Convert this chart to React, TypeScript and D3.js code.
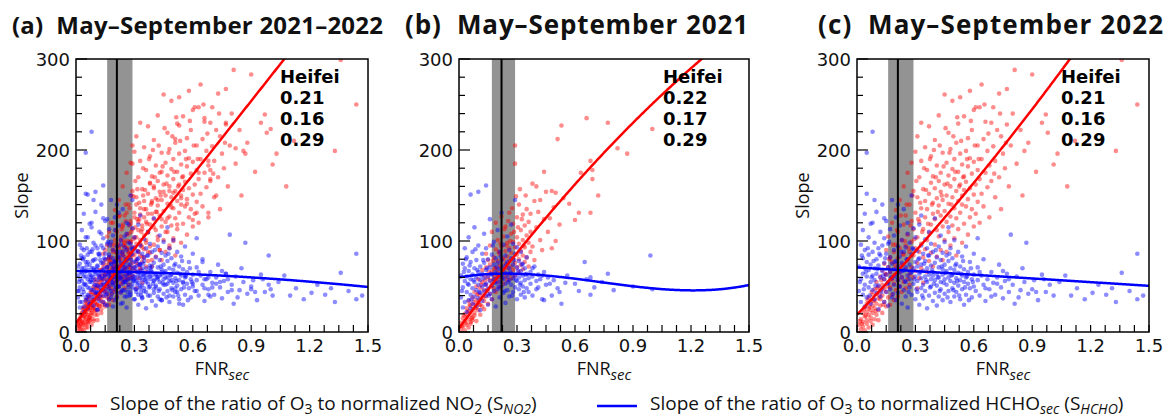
import React from 'react';
import * as d3 from 'd3';

type P = [number, number];

// ---- Data (FNR_sec, slope) ----
const red2021: P[] = [
[0.01,3],[0.01,10],[0.02,6],[0.02,15],[0.03,2],[0.03,12],[0.03,20],[0.04,8],[0.04,17],[0.04,26],[0.05,5],[0.05,14],[0.05,23],[0.05,34],[0.06,11],[0.06,19],[0.06,29],[0.06,9],[0.07,16],[0.07,25],[0.07,38],[0.07,13],[0.08,21],[0.08,30],[0.08,44],[0.08,18],[0.09,12],[0.09,27],[0.09,35],[0.09,50],[0.10,24],[0.10,33],[0.10,42],[0.10,58],
[0.11,19],[0.11,37],[0.11,48],[0.11,30],[0.12,28],[0.12,41],[0.12,55],[0.12,68],[0.13,34],[0.13,46],[0.13,62],[0.13,25],[0.14,39],[0.14,52],[0.14,71],[0.14,86],[0.15,31],[0.15,47],[0.15,60],[0.15,79],[0.16,42],[0.16,57],[0.16,74],[0.16,95],[0.17,36],[0.17,53],[0.17,67],[0.17,110],[0.18,48],[0.18,63],[0.18,82],[0.18,58],[0.19,44],[0.19,70],[0.19,91],[0.19,120],[0.20,55],[0.20,66],[0.20,78],[0.20,101],
[0.21,49],[0.21,62],[0.21,86],[0.21,73],[0.22,58],[0.22,71],[0.22,94],[0.22,127],[0.23,53],[0.23,66],[0.23,80],[0.23,105],[0.24,61],[0.24,75],[0.24,89],[0.24,116],[0.25,57],[0.25,70],[0.25,98],[0.25,83],[0.26,64],[0.26,78],[0.26,92],[0.26,131],[0.27,59],[0.27,72],[0.27,87],[0.27,108],[0.28,68],[0.28,81],[0.28,99],[0.28,119],[0.29,62],[0.29,76],[0.29,93],[0.29,185],[0.29,205],[0.30,71],[0.30,85],[0.30,104],[0.30,126],[0.31,66],[0.31,80],[0.31,97],[0.31,140],[0.32,74],[0.32,89],[0.32,112],[0.33,69],[0.33,84],[0.33,101],[0.33,129],[0.34,77],[0.34,93],[0.34,117],[0.35,82],[0.35,106],[0.35,135],
[0.36,72],[0.36,98],[0.36,121],[0.37,88],[0.37,110],[0.38,163],[0.38,94],[0.39,144],[0.39,79],[0.40,115],[0.41,132],[0.42,101],[0.43,90],[0.44,176],[0.44,124],[0.45,154],[0.46,110],[0.48,155],[0.48,92],[0.49,137],[0.50,153],[0.50,100],[0.51,212],[0.52,118],[0.53,227],[0.54,147],
[0.57,141],[0.60,123],[0.62,131],[0.63,175],[0.66,235],[0.68,188],[0.68,131],[0.69,178],[0.69,168],[0.72,150],[0.77,230],[0.82,202],[0.87,196],[1.00,223],
[0.015,7],[0.025,18],[0.035,10],[0.045,22],[0.055,30],[0.065,15],[0.075,33],[0.085,26],[0.095,41],[0.105,30],[0.115,52],[0.125,38],[0.135,57],[0.145,45],[0.155,66],[0.165,50],[0.175,78],[0.185,70],[0.195,60],[0.205,88],[0.215,97],[0.225,81],[0.235,113],[0.245,95],[0.255,122],[0.265,100],[0.275,136],[0.285,110],[0.295,149],[0.305,115],[0.315,157],[0.325,124],[0.335,95],[0.345,150],[0.37,130],[0.40,160],[0.42,145],[0.47,125]
];

const blue2021: P[] = [
[0.01,38],[0.01,62],[0.02,49],[0.02,75],[0.02,27],[0.03,56],[0.03,70],[0.03,92],[0.03,33],[0.04,44],[0.04,61],[0.04,82],[0.04,22],[0.05,52],[0.05,67],[0.05,35],[0.05,104],[0.06,151],[0.06,58],[0.06,41],[0.06,77],[0.06,26],[0.07,48],[0.07,63],[0.07,88],[0.07,31],[0.08,55],[0.08,70],[0.08,39],[0.08,115],[0.09,46],[0.09,60],[0.09,79],[0.09,29],[0.10,154],[0.10,52],[0.10,66],[0.10,37],[0.10,95],
[0.11,57],[0.11,72],[0.11,43],[0.11,24],[0.12,50],[0.12,64],[0.12,86],[0.12,34],[0.13,59],[0.13,45],[0.13,76],[0.13,108],[0.14,161],[0.14,53],[0.14,68],[0.14,40],[0.14,92],[0.15,61],[0.15,48],[0.15,80],[0.15,30],[0.16,56],[0.16,71],[0.16,42],[0.16,124],[0.17,63],[0.17,51],[0.17,85],[0.17,36],[0.18,58],[0.18,74],[0.18,45],[0.18,99],[0.19,66],[0.19,54],[0.19,81],[0.19,28],[0.20,60],[0.20,76],[0.20,47],[0.20,112],
[0.21,55],[0.21,69],[0.21,88],[0.21,38],[0.22,63],[0.22,50],[0.22,79],[0.22,131],[0.23,58],[0.23,72],[0.23,43],[0.23,96],[0.24,65],[0.24,53],[0.24,84],[0.24,32],[0.25,61],[0.25,77],[0.25,46],[0.25,105],[0.26,57],[0.26,70],[0.26,39],[0.26,90],[0.27,64],[0.27,52],[0.27,81],[0.27,118],[0.28,59],[0.28,74],[0.28,44],[0.28,97],[0.29,145],[0.29,62],[0.29,49],[0.29,86],[0.30,56],[0.30,71],[0.30,36],[0.30,93],[0.31,60],[0.31,47],[0.31,78],[0.32,54],[0.32,67],[0.32,41],[0.32,88],[0.33,62],[0.33,50],[0.33,75],[0.34,57],[0.34,70],[0.34,38],[0.35,64],[0.35,48],[0.35,82],
[0.36,59],[0.36,44],[0.37,66],[0.37,53],[0.38,61],[0.38,40],[0.39,72],[0.40,56],[0.40,47],[0.41,63],[0.42,58],[0.43,36],[0.44,35],[0.44,66],[0.45,52],[0.46,60],[0.48,40],[0.49,57],[0.51,48],[0.53,31],[0.55,54],[0.56,62],
[0.60,53],[0.62,45],[0.65,77],[0.66,58],[0.68,41],[0.68,60],[0.70,49],[0.74,55],[0.77,64],[0.80,46],[0.90,50],[0.99,84],[1.00,47],
[0.015,45],[0.025,66],[0.035,80],[0.045,53],[0.055,73],[0.065,36],[0.075,57],[0.085,91],[0.095,68],[0.105,44],[0.115,62],[0.125,79],[0.135,52],[0.145,70],[0.155,40],[0.165,64],[0.175,95],[0.185,55],[0.195,71],[0.205,50],[0.215,83],[0.225,60],[0.235,45],[0.245,74],[0.255,55],[0.265,66],[0.275,40],[0.285,79],[0.295,57],[0.305,67],[0.315,52],[0.325,74],[0.335,44],[0.345,63],[0.38,70],[0.41,49],[0.43,62],[0.47,53],[0.52,44]
];

const red2022: P[] = [
[0.01,8],[0.02,3],[0.02,14],[0.03,6],[0.03,21],[0.03,11],[0.04,2],[0.04,17],[0.04,27],[0.05,9],[0.05,13],[0.05,31],[0.05,22],[0.06,5],[0.06,19],[0.06,26],[0.06,38],[0.07,12],[0.07,24],[0.07,33],[0.07,16],[0.08,8],[0.08,29],[0.08,41],[0.08,21],[0.09,14],[0.09,35],[0.09,26],[0.09,47],[0.10,19],[0.10,31],[0.10,42],[0.10,55],[0.11,24],[0.11,37],[0.11,50],[0.11,13],[0.12,29],[0.12,45],[0.12,61],[0.12,36],[0.13,21],[0.13,52],[0.13,40],[0.13,68],[0.14,33],[0.14,47],[0.14,58],[0.14,75],
[0.15,28],[0.15,44],[0.15,63],[0.15,90],[0.16,38],[0.16,55],[0.16,71],[0.16,105],[0.17,30],[0.17,49],[0.17,66],[0.17,82],[0.18,41],[0.18,58],[0.18,77],[0.18,120],[0.19,35],[0.19,62],[0.19,88],[0.19,53],[0.20,46],[0.20,70],[0.20,96],[0.20,134],[0.21,39],[0.21,57],[0.21,81],[0.21,110],[0.22,50],[0.22,66],[0.22,92],[0.22,145],[0.23,44],[0.23,74],[0.23,101],[0.23,60],[0.24,55],[0.24,85],[0.24,118],[0.24,160],[0.25,48],[0.25,69],[0.25,95],[0.25,128],[0.26,58],[0.26,79],[0.26,107],[0.26,175],[0.27,63],[0.27,88],[0.27,140],[0.27,52],[0.28,71],[0.28,99],[0.28,122],[0.28,186],[0.29,60],[0.29,84],[0.29,113],[0.29,155],[0.30,67],[0.30,92],[0.30,131],[0.30,198],
[0.31,48],[0.31,76],[0.31,104],[0.31,148],[0.31,215],[0.32,59],[0.32,88],[0.32,121],[0.32,170],[0.33,70],[0.33,97],[0.33,136],[0.33,188],[0.33,230],[0.34,54],[0.34,82],[0.34,113],[0.34,157],[0.35,91],[0.35,126],[0.35,144],[0.35,203],[0.36,66],[0.36,101],[0.36,135],[0.36,178],[0.37,78],[0.37,109],[0.37,152],[0.37,226],[0.38,87],[0.38,118],[0.38,164],[0.38,193],[0.39,72],[0.39,130],[0.39,171],[0.39,142],[0.40,96],[0.40,124],[0.40,158],[0.40,211],[0.41,83],[0.41,112],[0.41,147],[0.41,183],[0.42,105],[0.42,139],[0.42,166],[0.42,238],[0.43,90],[0.43,128],[0.43,175],[0.43,154],[0.44,116],[0.44,145],[0.44,197],[0.44,79],[0.45,101],[0.45,133],[0.45,162],[0.45,261],
[0.46,88],[0.46,121],[0.46,150],[0.46,186],[0.47,110],[0.47,141],[0.47,172],[0.47,219],[0.48,95],[0.48,127],[0.48,160],[0.48,201],[0.49,117],[0.49,148],[0.49,179],[0.49,254],[0.50,103],[0.50,136],[0.50,168],[0.50,190],[0.51,125],[0.51,155],[0.51,208],[0.51,84],[0.52,113],[0.52,144],[0.52,176],[0.52,229],[0.53,131],[0.53,162],[0.53,196],[0.53,258],[0.54,98],[0.54,150],[0.54,184],[0.54,140],[0.55,119],[0.55,171],[0.55,237],[0.55,156],[0.56,138],[0.56,165],[0.56,199],[0.57,107],[0.57,146],[0.57,182],[0.57,213],[0.58,126],[0.58,158],[0.58,265],[0.58,191],[0.59,135],[0.59,174],[0.59,222],[0.60,116],[0.60,151],[0.60,187],[0.60,244],
[0.61,162],[0.61,247],[0.61,130],[0.62,178],[0.62,205],[0.62,143],[0.63,247],[0.63,168],[0.63,120],[0.64,272],[0.64,190],[0.64,152],[0.65,212],[0.65,138],[0.66,175],[0.66,231],[0.67,159],[0.67,199],[0.68,126],[0.68,183],[0.69,230],[0.69,166],[0.70,247],[0.70,204],[0.71,148],[0.71,188],[0.72,222],[0.73,170],[0.73,262],[0.74,215],[0.74,135],[0.75,196],[0.76,180],[0.77,267],[0.77,228],[0.78,160],[0.79,205],[0.80,240],
[0.81,288],[0.82,185],[0.84,222],[0.85,150],[0.86,199],[0.88,208],[0.90,283],[0.92,176],[0.95,230],[0.97,239],[0.98,219],[1.01,184],[1.03,196],[1.08,160],[1.12,210],[1.33,199],[1.36,299],[1.44,250],
[0.015,12],[0.025,9],[0.035,25],[0.045,18],[0.055,35],[0.065,28],[0.075,44],[0.085,34],[0.095,23],[0.105,48],[0.115,40],[0.125,57],[0.135,30],[0.145,64],[0.155,50],[0.165,80],[0.175,58],[0.185,96],[0.195,74],[0.205,112],[0.215,68],[0.225,128],[0.235,86],[0.245,100],[0.255,140],[0.265,92],[0.275,117],[0.285,150],[0.295,102],[0.305,166],[0.315,124],[0.325,142],[0.335,110],[0.345,180],[0.355,156],[0.365,119],[0.375,190],[0.385,140],[0.395,200],[0.405,170],[0.415,132],[0.425,205],[0.435,150],[0.445,182],[0.455,224],[0.465,163],[0.475,197],[0.485,140],[0.495,215],[0.505,176],[0.515,236],[0.525,160],[0.535,210],[0.545,170],[0.565,190],[0.585,232],[0.605,205],[0.625,190],[0.655,250],[0.675,218],[0.705,174],[0.735,240],[0.765,208]
];

const blue2022: P[] = [
[0.01,45],[0.01,72],[0.02,58],[0.02,96],[0.02,33],[0.03,64],[0.03,81],[0.03,112],[0.03,41],[0.04,52],[0.04,70],[0.04,90],[0.04,28],[0.05,197],[0.05,61],[0.05,77],[0.05,152],[0.05,38],[0.06,49],[0.06,68],[0.06,85],[0.06,104],[0.07,55],[0.07,74],[0.07,31],[0.07,119],[0.08,220],[0.08,62],[0.08,46],[0.08,88],[0.08,120],[0.09,70],[0.09,36],[0.09,57],[0.09,98],[0.10,64],[0.10,80],[0.10,43],[0.10,132],
[0.11,51],[0.11,73],[0.11,92],[0.11,25],[0.12,60],[0.12,84],[0.12,110],[0.12,39],[0.13,67],[0.13,48],[0.13,95],[0.13,140],[0.14,58],[0.14,76],[0.14,33],[0.14,103],[0.15,63],[0.15,86],[0.15,44],[0.15,122],[0.16,54],[0.16,71],[0.16,97],[0.16,29],[0.17,66],[0.17,82],[0.17,47],[0.17,113],[0.18,59],[0.18,75],[0.18,38],[0.18,145],[0.19,69],[0.19,90],[0.19,52],[0.19,106],[0.20,61],[0.20,78],[0.20,35],[0.20,126],
[0.21,57],[0.21,72],[0.21,94],[0.21,43],[0.22,65],[0.22,83],[0.22,50],[0.22,117],[0.23,60],[0.23,76],[0.23,31],[0.23,101],[0.24,68],[0.24,88],[0.24,46],[0.24,135],[0.25,55],[0.25,71],[0.25,93],[0.25,39],[0.26,62],[0.26,80],[0.26,108],[0.26,27],[0.27,58],[0.27,74],[0.27,49],[0.27,98],[0.28,66],[0.28,85],[0.28,41],[0.28,150],[0.29,53],[0.29,70],[0.29,91],[0.29,114],[0.30,61],[0.30,77],[0.30,36],[0.30,104],
[0.31,56],[0.31,72],[0.31,89],[0.31,44],[0.32,64],[0.32,81],[0.32,30],[0.32,118],[0.33,59],[0.33,74],[0.33,95],[0.33,48],[0.34,67],[0.34,52],[0.34,86],[0.34,37],[0.35,61],[0.35,78],[0.35,102],[0.35,45],[0.36,55],[0.36,70],[0.36,92],[0.36,26],[0.37,63],[0.37,84],[0.37,40],[0.37,110],[0.38,58],[0.38,73],[0.38,50],[0.38,97],[0.39,66],[0.39,88],[0.39,34],[0.39,62],[0.40,57],[0.40,76],[0.40,43],[0.40,125],[0.41,64],[0.41,82],[0.41,51],[0.41,29],[0.42,60],[0.42,71],[0.42,94],[0.42,39],[0.43,55],[0.43,79],[0.43,47],[0.43,106],[0.44,63],[0.44,87],[0.44,35],[0.44,69],[0.45,58],[0.45,74],[0.45,42],[0.45,99],
[0.46,52],[0.46,67],[0.46,84],[0.47,60],[0.47,45],[0.47,78],[0.48,56],[0.48,70],[0.48,33],[0.48,92],[0.49,63],[0.49,48],[0.49,81],[0.50,54],[0.50,68],[0.50,39],[0.50,101],[0.51,59],[0.51,75],[0.51,44],[0.52,65],[0.52,51],[0.52,88],[0.53,57],[0.53,36],[0.53,72],[0.54,62],[0.54,47],[0.54,83],[0.55,55],[0.55,69],[0.55,30],[0.56,60],[0.56,41],[0.56,94],[0.57,53],[0.57,66],[0.58,48],[0.58,77],[0.59,58],[0.59,38],[0.60,63],[0.60,50],[0.60,86],
[0.61,45],[0.62,57],[0.62,71],[0.63,40],[0.64,62],[0.65,52],[0.65,80],[0.66,34],[0.67,58],[0.68,47],[0.69,66],[0.70,54],[0.71,41],[0.72,60],[0.73,74],[0.74,49],[0.75,37],[0.76,56],[0.77,64],[0.78,44],[0.79,107],[0.80,52],[0.81,31],[0.82,61],[0.84,46],[0.85,70],[0.87,98],[0.88,42],[0.90,47],[0.91,57],[0.93,35],[0.95,63],[0.97,44],[0.99,52],
[1.01,40],[1.04,55],[1.07,62],[1.10,40],[1.13,48],[1.17,36],[1.21,43],[1.24,52],[1.28,41],[1.31,48],[1.33,33],[1.36,65],[1.40,45],[1.44,36],[1.44,86],[1.47,40],
[0.015,55],[0.025,84],[0.035,47],[0.045,66],[0.055,92],[0.065,40],[0.075,60],[0.085,78],[0.095,51],[0.105,69],[0.115,86],[0.125,44],[0.135,62],[0.145,81],[0.155,53],[0.165,99],[0.175,60],[0.185,42],[0.195,77],[0.205,64],[0.215,50],[0.225,88],[0.235,67],[0.245,56],[0.255,80],[0.265,44],[0.275,65],[0.285,92],[0.295,58],[0.305,47],[0.315,80],[0.325,66],[0.335,40],[0.345,75],[0.355,57],[0.365,84],[0.375,49],[0.385,68],[0.395,53],[0.405,90],[0.415,60],[0.425,45],[0.435,72],[0.445,54],[0.455,65],[0.465,38],[0.475,86],[0.485,62],[0.495,46],[0.505,73],[0.515,56],[0.525,40],[0.535,64],[0.545,78],[0.555,49],[0.565,61],[0.575,35],[0.585,70],[0.595,55],[0.63,66],[0.66,48],[0.69,39],[0.72,53],[0.75,67],[0.78,58],[0.83,38],[0.86,55],[0.92,44],[0.96,58],
[0.04,130],[0.09,145],[0.14,125],[0.21,140],[0.26,120],[0.33,128],[0.47,115],[0.62,103]
];

// Polynomial fit coefficients (c0 + c1 x + c2 x^2 + c3 x^3)
const fitRedAll = [10, 271, 0];
const fitBlueAll = [67, -1.93, -6.5];
const fitRed2021 = [4, 289.3, -42.6];
const fitBlue2021 = [60, 36.5, -89.4, 40.9];
const fitRed2022 = [19, 223, 31];
const fitBlue2022 = [71, -13.5];

// FNR thresholds: [turning point, lower, upper]
const statsAll = [0.21, 0.16, 0.29];
const stats2021 = [0.22, 0.17, 0.29];
const stats2022 = [0.21, 0.16, 0.29];

const panelTitles = ['(a)  May–September 2021–2022', '(b)  May–September 2021', '(c)  May–September 2022'];
const cityName = 'Heifei';
const xTickLabels = [0, 0.3, 0.6, 0.9, 1.2, 1.5];
const yTickLabels = [0, 100, 200, 300];

const TOP = 59;
const BOTTOM = 332;

function poly(c: number[]) {
  return (t: number) => c.reduce((s, ci, i) => s + ci * Math.pow(t, i), 0);
}

function Panel(props: {
  id: string; left: number; width: number; title: string; titleX: number; titleW: number; titleSize: number;
  red: P[]; blue: P[]; fr: number[]; fb: number[]; stats: number[]; yLabelX?: number;
}) {
  const { id, left, width, title, titleX, titleW, titleSize, red, blue, fr, fb, stats, yLabelX } = props;
  const x = d3.scaleLinear().domain([0, 1.5]).range([left, left + width]);
  const y = d3.scaleLinear().domain([0, 300]).range([BOTTOM, TOP]);
  const ts = d3.range(0, 1.5001, 0.005);
  const line = d3.line<number>();
  const redPath = line(ts.map(t => [x(t), y(poly(fr)(t))] as [number, number]));
  const bluePath = line(ts.map(t => [x(t), y(poly(fb)(t))] as [number, number]));
  const xMinor = d3.range(0, 1.5001, 0.075);
  const yMinor = d3.range(0, 300.1, 20);
  const fmt = d3.format('.1f');
  return (
    <g>
      <defs>
        <clipPath id={id}>
          <rect x={left} y={TOP} width={width} height={BOTTOM - TOP} />
        </clipPath>
      </defs>
      <text x={titleX} y={34} fontFamily="'Open Sans'" fontWeight={700} fontSize={titleSize} fill="#111"
        style={{ whiteSpace: 'pre' }} textLength={titleW} lengthAdjust="spacing">{title}</text>
      <g clipPath={`url(#${id})`}>
        <rect x={x(stats[1])} y={TOP} width={x(stats[2]) - x(stats[1])} height={BOTTOM - TOP} fill="#808080" opacity={0.85} />
        {red.map((d, i) => (
          <circle key={'r' + i} cx={x(d[0])} cy={y(d[1])} r={2.3} fill="#ff0000" fillOpacity={0.45} />
        ))}
        {blue.map((d, i) => (
          <circle key={'b' + i} cx={x(d[0])} cy={y(d[1])} r={2.3} fill="#0000ff" fillOpacity={0.45} />
        ))}
        <path d={redPath || ''} fill="none" stroke="#ff0000" strokeWidth={2.5} />
        <path d={bluePath || ''} fill="none" stroke="#0000ff" strokeWidth={2.5} />
        <line x1={x(stats[0])} x2={x(stats[0])} y1={TOP} y2={BOTTOM} stroke="#000" strokeWidth={2} />
      </g>
      <rect x={left} y={TOP} width={width} height={BOTTOM - TOP} fill="none" stroke="#000" strokeWidth={1.5} />
      {xMinor.map((t, i) => (
        <line key={'xm' + i} x1={x(t)} x2={x(t)} y1={BOTTOM} y2={BOTTOM - 7} stroke="#000" strokeWidth={1.2} />
      ))}
      {yMinor.map((t, i) => (
        <line key={'ym' + i} x1={left} x2={left + (t % 100 === 0 ? 11 : 6)} y1={y(t)} y2={y(t)} stroke="#000" strokeWidth={1.2} />
      ))}
      {xTickLabels.map((t, i) => (
        <text key={'xl' + i} x={x(t)} y={352} textAnchor="middle" fontFamily="'DejaVu Sans'" fontSize={18} fill="#111">{fmt(t)}</text>
      ))}
      {yTickLabels.map((t, i) => (
        <text key={'yl' + i} x={left - 6} y={y(t) + 7} textAnchor="end" fontFamily="'DejaVu Sans'" fontSize={18} fill="#111">{t}</text>
      ))}
      <text x={left + width / 2} y={375} textAnchor="middle" fontFamily="'Open Sans'" fontSize={18} fill="#111">
        FNR<tspan fontSize={15} fontStyle="italic" dy={5}>sec</tspan>
      </text>
      {yLabelX !== undefined && (
        <text transform={`translate(${yLabelX},${(TOP + BOTTOM) / 2}) rotate(-90)`} textAnchor="middle" fontFamily="'Open Sans'" fontSize={18} fill="#111">Slope</text>
      )}
      <g fontFamily="'DejaVu Sans'" fontWeight={700} fontSize={18} fill="#000">
        <text x={left + 204} y={83}>{cityName}</text>
        {stats.map((s, i) => (
          <text key={'s' + i} x={left + 204} y={104 + i * 21}>{s.toFixed(2)}</text>
        ))}
      </g>
    </g>
  );
}

export default function App() {
  const redAll = red2021.concat(red2022);
  const blueAll = blue2021.concat(blue2022);
  return (
    <svg width={1168} height={416} style={{ position: 'absolute', left: 0, top: 0, background: '#fff' }}>
      <rect width={1168} height={416} fill="#fff" />
      <Panel id="ca" left={76} width={292} title={panelTitles[0]} titleX={12} titleW={371} titleSize={24} red={redAll} blue={blueAll} fr={fitRedAll} fb={fitBlueAll} stats={statsAll} yLabelX={28} />
      <Panel id="cb" left={459} width={290} title={panelTitles[1]} titleX={405} titleW={343} titleSize={26} red={red2021} blue={blue2021} fr={fitRed2021} fb={fitBlue2021} stats={stats2021} />
      <Panel id="cc" left={857} width={292} title={panelTitles[2]} titleX={818} titleW={345} titleSize={26} red={red2022} blue={blue2022} fr={fitRed2022} fb={fitBlue2022} stats={stats2022} yLabelX={809} />
      <g fontFamily="'Open Sans'" fontSize={19} fill="#111">
        <line x1={57} x2={97} y1={406} y2={406} stroke="#ff0000" strokeWidth={2.5} />
        <text x={110} y={410}>
          Slope of the ratio of O<tspan fontSize={14} dy={3.5}>3</tspan><tspan dy={-3.5}> to normalized NO</tspan><tspan fontSize={14} dy={3.5}>2</tspan><tspan dy={-3.5}> (S</tspan><tspan fontSize={14} fontStyle="italic" dy={3.5}>NO2</tspan><tspan dy={-3.5}>)</tspan>
        </text>
        <line x1={597} x2={637} y1={406} y2={406} stroke="#0000ff" strokeWidth={2.5} />
        <text x={650} y={410}>
          Slope of the ratio of O<tspan fontSize={14} dy={3.5}>3</tspan><tspan dy={-3.5}> to normalized HCHO</tspan><tspan fontSize={14} fontStyle="italic" dy={3.5}>sec</tspan><tspan dy={-3.5}> (S</tspan><tspan fontSize={14} fontStyle="italic" dy={3.5}>HCHO</tspan><tspan dy={-3.5}>)</tspan>
        </text>
      </g>
    </svg>
  );
}
